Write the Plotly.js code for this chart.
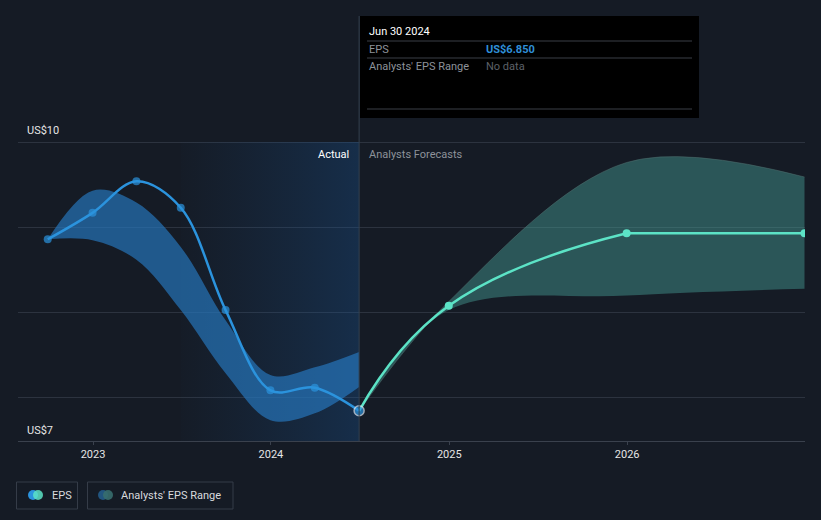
<!DOCTYPE html>
<html><head><meta charset="utf-8">
<script src="https://cdn.plot.ly/plotly-3.0.1.min.js"></script>
<style>html,body{margin:0;padding:0;background:#151b25;}#chart{width:821px;height:520px;}</style>
</head><body><div id="chart"></div><script>
// ---- data ----
const actualDates = ['2022-09-30','2022-12-31','2023-03-31','2023-06-30','2023-09-30','2023-12-31','2024-03-31','2024-06-30'];
const actualEps = [8.86, 9.17, 9.54, 9.23, 8.03, 7.09, 7.12, 6.85];
const pastRangeHigh = [8.86, 9.43, 9.29, 8.77, 7.91, 7.27, 7.36, 7.54];
const pastRangeLow = [8.86, 8.85, 8.62, 8.03, 7.29, 6.74, 6.82, 7.13];
const forecastDates = ['2024-06-30','2024-12-31','2025-12-31','2026-12-31'];
const forecastEps = [6.85, 8.08, 8.93, 8.93];
const forecastHigh = [6.85, 8.13, 9.76, 9.59];
const forecastLow = [6.85, 8.03, 8.20, 8.28];
const yearTicks = ['2023-01-01','2024-01-01','2025-01-01','2026-01-01'];
const yearLabels = ['2023','2024','2025','2026'];
const gridValues = [7, 8, 9, 10];
const shadeStart = '2023-06-30';
const shadeEnd = '2024-06-30';
const yMin = 6.496, yMax = 11.547, yTopLabel = 10;

// pixel helpers for paper coords (plot area x:18..805, y:10..441)
const PL = 18, PR = 805, PT = 10, PB = 441;
const px = x => (x - PL) / (PR - PL);
const py = y => (PB - y) / (PB - PT);

const traces = [
  { x: [shadeStart, shadeEnd, shadeEnd, shadeStart, shadeStart],
    y: [yMin, yMin, yTopLabel, yTopLabel, yMin],
    mode: 'lines', line: {width: 0}, fill: 'toself',
    fillgradient: {type: 'horizontal', colorscale: [[0, 'rgba(25,80,140,0.02)'], [1, 'rgba(25,90,160,0.3)']]},
    hoverinfo: 'skip', showlegend: false },
  { x: actualDates, y: pastRangeHigh, mode: 'lines', line: {width: 0, shape: 'spline', smoothing: 1}, hoverinfo: 'skip', showlegend: false },
  { x: actualDates, y: pastRangeLow, mode: 'lines', line: {width: 0, shape: 'spline', smoothing: 1}, fill: 'tonexty',
    fillcolor: 'rgba(38,120,190,0.68)', hoverinfo: 'skip', showlegend: false },
  { x: forecastDates, y: forecastHigh, mode: 'lines', line: {width: 1, color: 'rgba(80,110,110,0.5)', shape: 'spline', smoothing: 1}, hoverinfo: 'skip', showlegend: false },
  { x: forecastDates, y: forecastLow, mode: 'lines', line: {width: 0, shape: 'spline', smoothing: 1}, fill: 'tonexty',
    fillcolor: 'rgba(72,160,150,0.45)', hoverinfo: 'skip', showlegend: false },
  { x: forecastDates.slice(0, 3), y: forecastEps.slice(0, 3), mode: 'lines', line: {width: 2.5, color: '#5ce3c6', shape: 'spline', smoothing: 1.3},
    hoverinfo: 'skip', showlegend: false },
  { x: forecastDates.slice(2), y: forecastEps.slice(2), mode: 'lines', line: {width: 2.5, color: '#5ce3c6'},
    hoverinfo: 'skip', showlegend: false },
  { x: forecastDates.slice(1), y: forecastEps.slice(1), mode: 'markers', marker: {size: 8, color: '#5ce3c6'},
    hoverinfo: 'skip', showlegend: false },
  { x: actualDates, y: actualEps, mode: 'lines+markers', line: {width: 2.5, color: '#2b93dd', shape: 'spline', smoothing: 1},
    marker: {size: [8,8,8,8,8,8,8,10], color: '#2b93dd', line: {width: [0,0,0,0,0,0,0,1.5], color: '#dde8f5'}},
    hoverinfo: 'skip', showlegend: false }
];

const font = 'Roboto, "Noto Sans", sans-serif';
const ann = (x, y, text, opts) => Object.assign({xref: 'paper', yref: 'paper', x: px(x), y: py(y), text: text,
  showarrow: false, xanchor: 'left', yanchor: 'middle', font: {family: font, size: 11, color: '#e6e6e6'}}, opts || {});

const shapes = [
  {type: 'line', xref: 'x', yref: 'paper', x0: shadeEnd, x1: shadeEnd, y0: 0, y1: py(16), line: {color: '#34404f', width: 1}},
  {type: 'rect', xref: 'paper', yref: 'paper', x0: px(360), x1: px(699), y0: py(118), y1: py(16), fillcolor: '#000000', line: {width: 0}},
  {type: 'line', xref: 'paper', yref: 'paper', x0: px(367), x1: px(692), y0: py(41), y1: py(41), line: {color: '#3a3f47', width: 1}},
  {type: 'line', xref: 'paper', yref: 'paper', x0: px(367), x1: px(692), y0: py(58), y1: py(58), line: {color: '#3a3f47', width: 1}},
  {type: 'line', xref: 'paper', yref: 'paper', x0: px(367), x1: px(692), y0: py(109), y1: py(109), line: {color: '#3a3f47', width: 1}},
  // legend boxes
  {type: 'rect', xref: 'paper', yref: 'paper', x0: px(16.5), x1: px(77.5), y0: py(509), y1: py(482), line: {color: '#353c48', width: 1}},
  {type: 'rect', xref: 'paper', yref: 'paper', x0: px(87.5), x1: px(233), y0: py(509), y1: py(482), line: {color: '#353c48', width: 1}},
  {type: 'circle', xref: 'paper', yref: 'paper', x0: px(28), x1: px(38), y0: py(500), y1: py(490), fillcolor: '#2b93dd', line: {width: 0}},
  {type: 'circle', xref: 'paper', yref: 'paper', x0: px(33), x1: px(43), y0: py(500), y1: py(490), fillcolor: 'rgba(92,227,198,0.85)', line: {width: 0}},
  {type: 'circle', xref: 'paper', yref: 'paper', x0: px(98), x1: px(108), y0: py(500), y1: py(490), fillcolor: '#22557f', line: {width: 0}},
  {type: 'circle', xref: 'paper', yref: 'paper', x0: px(103), x1: px(113), y0: py(500), y1: py(490), fillcolor: 'rgba(55,110,110,0.9)', line: {width: 0}}
];

const annotations = [
  ann(25, 130, 'US$10'),
  ann(25, 430, 'US$7'),
  ann(351, 154, 'Actual', {xanchor: 'right', font: {family: font, size: 11, color: '#ffffff'}}),
  ann(367, 154, 'Analysts Forecasts', {font: {family: font, size: 11, color: '#8d929a'}}),
  ann(367, 31, 'Jun 30 2024', {font: {family: font, size: 11, color: '#ffffff'}}),
  ann(367, 49, 'EPS', {font: {family: font, size: 11, color: '#8d929a'}}),
  ann(484, 49, '<b>US$6.850</b>', {font: {family: font, size: 11, color: '#2f8fd8'}}),
  ann(367, 66, "Analysts' EPS Range", {font: {family: font, size: 11, color: '#8d929a'}}),
  ann(484, 66, 'No data', {font: {family: font, size: 11, color: '#5d6168'}}),
  ann(50, 495, 'EPS', {font: {family: font, size: 11, color: '#d8dade'}}),
  ann(119, 495, "Analysts' EPS Range", {font: {family: font, size: 11, color: '#d8dade'}})
];

const layout = {
  width: 821, height: 520,
  margin: {l: PL, r: 821 - PR, t: PT, b: 520 - PB},
  paper_bgcolor: '#151b25', plot_bgcolor: '#151b25',
  xaxis: {type: 'date', range: ['2022-07-31', '2027-01-01'], tickvals: yearTicks, ticktext: yearLabels,
    showgrid: false, zeroline: false, showline: true, linecolor: '#3a414d', linewidth: 1,
    ticks: 'outside', ticklen: 3, tickcolor: '#3a414d',
    tickfont: {family: font, size: 11, color: '#e6e6e6'}, fixedrange: true},
  yaxis: {range: [yMin, yMax], tickvals: gridValues, showticklabels: false, showgrid: true,
    gridcolor: '#2c333f', gridwidth: 1, zeroline: false, showline: false, fixedrange: true},
  shapes: shapes,
  annotations: annotations,
  showlegend: false
};

Plotly.newPlot('chart', traces, layout, {displayModeBar: false, staticPlot: true});
</script></body></html>
